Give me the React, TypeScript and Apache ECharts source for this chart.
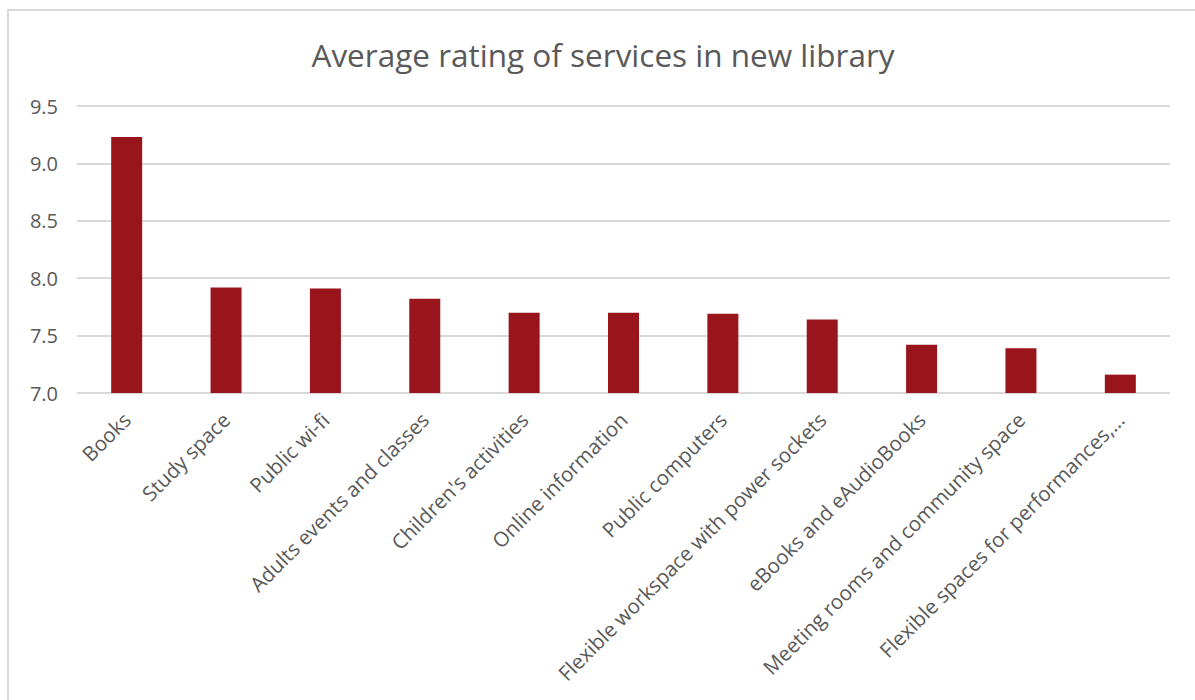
import React, { useEffect, useRef } from "react";
import * as echarts from "echarts";

const title = "Average rating of services in new library";
const categories = [
  "Books",
  "Study space",
  "Public wi-fi",
  "Adults events and classes",
  "Children's activities",
  "Online information",
  "Public computers",
  "Flexible workspace with power sockets",
  "eBooks and eAudioBooks",
  "Meeting rooms and community space",
  "Flexible spaces for performances,…",
];
const ratings = [9.23, 7.92, 7.91, 7.82, 7.7, 7.7, 7.69, 7.64, 7.42, 7.39, 7.16];
const yMin = 7.0;
const yMax = 9.5;
const yStep = 0.5;

const FONT = "'Open Sans', sans-serif";
const TEXT = "#595959";

export default function App() {
  const ref = useRef<HTMLDivElement>(null);
  useEffect(() => {
    if (!ref.current) return;
    const chart = echarts.init(ref.current, undefined, { renderer: "svg" });
    chart.setOption({
      animation: false,
      backgroundColor: "#ffffff",
      textStyle: { fontFamily: FONT },
      graphic: [
        {
          type: "rect",
          shape: { x: 8, y: 10, width: 1200, height: 700 },
          style: { fill: "none", stroke: "#D9D9D9", lineWidth: 2 },
          silent: true,
        },
        {
          type: "text",
          x: 603,
          y: 54,
          style: {
            text: title,
            fill: TEXT,
            font: `31.5px ${FONT}`,
            textAlign: "center",
            textVerticalAlign: "middle",
          },
        },
      ],
      grid: { left: 77, right: 25, top: 106, bottom: 307, containLabel: false },
      xAxis: {
        type: "category",
        data: categories,
        axisLine: { show: false },
        axisTick: { show: false },
        axisLabel: {
          interval: 0,
          rotate: 45,
          color: TEXT,
          fontSize: 20.5,
          fontFamily: FONT,
          margin: 23,
        },
      },
      yAxis: {
        type: "value",
        min: yMin,
        max: yMax,
        interval: yStep,
        axisLine: { show: false },
        axisTick: { show: false },
        splitLine: { lineStyle: { color: "#D9D9D9", width: 2 } },
        axisLabel: {
          color: TEXT,
          fontSize: 20,
          fontFamily: FONT,
          margin: 19,
          formatter: (v: number) => v.toFixed(1),
        },
      },
      series: [
        {
          type: "bar",
          data: ratings,
          barWidth: 31,
          itemStyle: { color: "#99151C" },
        },
      ],
    });
    return () => chart.dispose();
  }, []);
  return (
    <div
      ref={ref}
      style={{ position: "fixed", left: 0, top: 0, width: 1195, height: 700 }}
    />
  );
}
